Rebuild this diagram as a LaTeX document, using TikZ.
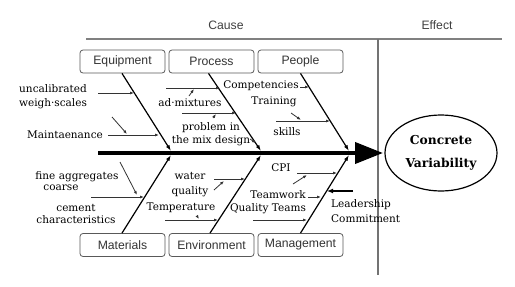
\documentclass[tikz,border=0pt]{standalone}
\usepackage{fontspec}
\setmainfont{DejaVu Serif}
\setsansfont{Liberation Sans}
\usetikzlibrary{arrows.meta,shapes.geometric}
\begin{document}
\begin{tikzpicture}[x=1pt, y=-1pt,
    catbox/.style={rectangle, rounded corners=3pt, draw=black!65, line width=0.8pt, minimum width=85pt, minimum height=23pt, font=\sffamily\fontsize{12.2}{14}\selectfont, text=black!80},
    head/.style={font=\sffamily\fontsize{12.2}{14}\selectfont, text=black!75},
    lbl/.style={inner sep=0pt, align=center, font=\fontsize{10.5}{14}\selectfont},
    bone/.style={-{Latex[length=6pt,width=4pt]}, line width=1.2pt},
    twig/.style={-{Latex[length=4pt,width=3pt]}, line width=0.8pt, black!80}]
    \useasboundingbox (0,0) rectangle (515,287);

    \node[head] (cause) at (226,25) {Cause};
    \node[head] (effectlbl) at (437,25) {Effect};
    \draw[black!50, line width=1.8pt] (86,39) -- (502,39);
    \draw[black!55, line width=1.3pt] (378,39) -- (378,275);

    \node[catbox] (equip) at (122.5,61.5) {Equipment};
    \node[catbox] (proc) at (211.5,61.5) {Process};
    \node[catbox] (people) at (300.5,61.5) {People};
    \node[catbox] (mat) at (122.5,245) {Materials};
    \node[catbox] (env) at (211.5,245) {Environment};
    \node[catbox] (mgmt) at (300.5,245) {Management};

    \node[ellipse, draw, line width=1.2pt, minimum width=112pt, minimum height=76pt, align=center, font=\bfseries\fontsize{12.3}{23}\selectfont] (effect) at (441,153) {Concrete\\Variability};

    \coordinate (tail) at (98,153);
    \coordinate (tip) at (383,153);
    \draw[line width=4pt, -{Triangle[length=28pt,width=21pt]}] (tail) -- (tip);

    % bones
    \coordinate (eqend) at (171,151);
    \coordinate (prend) at (261,151);
    \coordinate (peend) at (349,151);
    \coordinate (maend) at (171,155);
    \coordinate (enend) at (261,155);
    \coordinate (mgend) at (349,155);
    \draw[bone] ([xshift=-0.5pt]equip.south) -- (eqend);
    \draw[bone] ([xshift=-3pt]proc.south) -- (prend);
    \draw[bone] (people.south) -- (peend);
    \draw[bone] ([xshift=-0.5pt]mat.north) -- (maend);
    \draw[bone] ([xshift=-1.5pt]env.north) -- (enend);
    \draw[bone] (mgmt.north) -- (mgend);

    % labels
    \node[lbl] (scales) at (53,97) {uncalibrated\\weigh·scales};
    \node[lbl] (maint) at (65,135) {Maintaenance};
    \node[lbl] (admix) at (190,103) {ad·mixtures};
    \node[lbl] (design) at (211,134) {problem in\\[-1.5pt]the mix design};
    \node[lbl] (compet) at (261,86) {Competencies};
    \node[lbl] (train) at (274,102) {Training};
    \node[lbl] (skills) at (287,132) {skills};
    \node[lbl] (fine) at (77,177) {fine aggregates};
    \node[lbl] (coarse) at (61,188) {coarse};
    \node[lbl] (cement) at (76,214) {cement\\[-2pt]characteristics};
    \node[lbl] (water) at (190,184.5) {water\\[1pt]quality};
    \node[lbl] (temp) at (181,208) {Temperature};
    \node[lbl] (cpi) at (281,168) {CPI};
    \node[lbl] (team) at (278,195) {Teamwork};
    \node[lbl] (qteams) at (268,209) {Quality Teams};
    \node[lbl, align=left, anchor=west] (lead) at (331,211.5) {Leadership\\[1pt]Commitment};

    % sub causes
    \coordinate (eq1a) at (98,93);   \coordinate (eq1b) at (134,93);
    \coordinate (eq2a) at (108,135); \coordinate (eq2b) at (159,135);
    \coordinate (eq3a) at (112,117); \coordinate (eq3b) at (127,134);
    \coordinate (pr1a) at (166,88);  \coordinate (pr1b) at (220,88);
    \coordinate (pr2a) at (189,96);  \coordinate (pr2b) at (194,89);
    \coordinate (pr3a) at (182,113); \coordinate (pr3b) at (236,113);
    \coordinate (pr4a) at (213,118); \coordinate (pr4b) at (216,114);
    \coordinate (pr5a) at (250,139); \coordinate (pr5b) at (256,143);
    \coordinate (pe1a) at (300,87);  \coordinate (pe1b) at (309,87);
    \coordinate (pe2a) at (276,121); \coordinate (pe2b) at (330,121);
    \coordinate (pe3a) at (291,113); \coordinate (pe3b) at (301,120);
    \coordinate (ma1a) at (91,197);  \coordinate (ma1b) at (144,197);
    \coordinate (ma2a) at (120,162); \coordinate (ma2b) at (137,195);
    \coordinate (en1a) at (214,179); \coordinate (en1b) at (245,179);
    \coordinate (en2a) at (214,190); \coordinate (en2b) at (224,181);
    \coordinate (en3a) at (165,220); \coordinate (en3b) at (218,220);
    \coordinate (en4a) at (197,216); \coordinate (en4b) at (199,219);
    \coordinate (mg1a) at (297,173); \coordinate (mg1b) at (337,173);
    \coordinate (mg2a) at (293,184); \coordinate (mg2b) at (307,175);
    \coordinate (mg3a) at (308,197); \coordinate (mg3b) at (321,197);
    \coordinate (mg4a) at (253,220); \coordinate (mg4b) at (307,220);
    \coordinate (mg5a) at (353,191); \coordinate (mg5b) at (327,191);

    \foreach \s in {eq1,eq2,eq3,pr1,pr2,pr3,pr4,pr5,pe1,pe2,pe3,ma1,ma2,en1,en2,en3,en4,mg1,mg2,mg3,mg4}
        \draw[twig] (\s a) -- (\s b);
    \draw[-{Latex[length=6pt,width=5pt]}, line width=1.5pt] (mg5a) -- (mg5b);
\end{tikzpicture}
\end{document}
